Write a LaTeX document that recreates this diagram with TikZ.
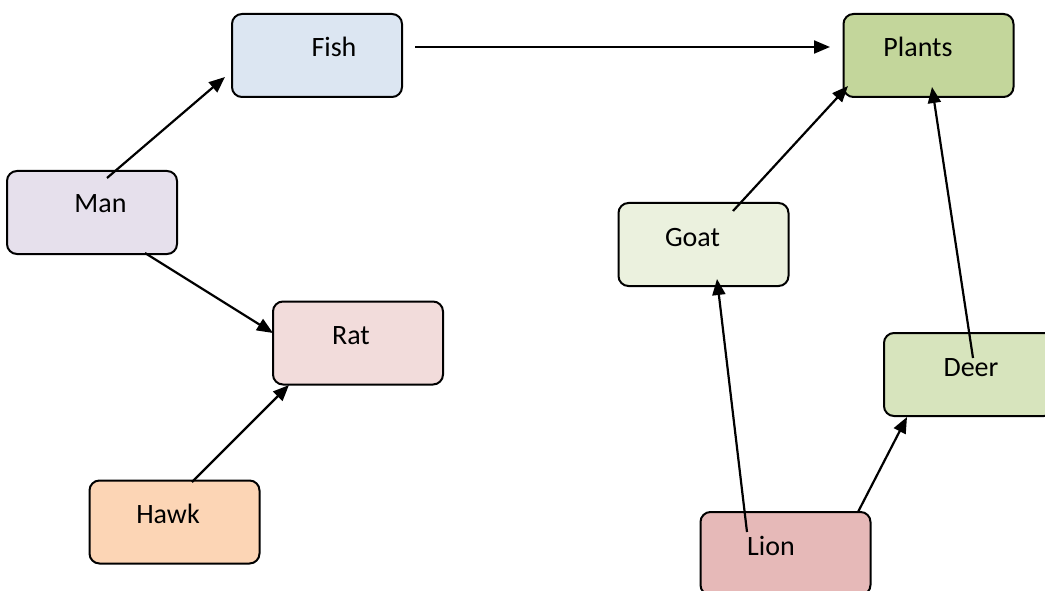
\documentclass[tikz,border=0pt]{standalone}
\usepackage{fontspec}
\setmainfont{Carlito}
\usepackage{tikz}
\usetikzlibrary{arrows.meta}
\definecolor{fishc}{HTML}{DCE6F2}
\definecolor{plantc}{HTML}{C3D69B}
\definecolor{manc}{HTML}{E6E0EC}
\definecolor{goatc}{HTML}{EBF1DE}
\definecolor{ratc}{HTML}{F2DCDB}
\definecolor{deerc}{HTML}{D7E4BD}
\definecolor{hawkc}{HTML}{FCD5B5}
\definecolor{lionc}{HTML}{E6B9B8}
\tikzset{
BOX/.style ={draw=black,rounded corners=10pt,line width=2pt,minimum width=170pt,minimum height=83pt,fill=#1},
BOX/.default = white,
NAME/.style ={anchor=base,inner sep=0pt,font=\fontsize{28}{34}\selectfont},
LINK/.style ={draw=black,line width=2.2pt,-{Triangle[length=16pt,width=13pt]}},
}
\begin{document}
\begin{tikzpicture} %food web
[x=1pt,y=-1pt]
	\useasboundingbox (0,0) rectangle (1045,591);
	\node[BOX=fishc] (fish) at (317,55.5) {};
	\node[BOX=plantc] (plants) at (928.5,55.5) {};
	\node[BOX=manc] (man) at (92,212.5) {};
	\node[BOX=goatc] (goat) at (703.5,244.5) {};
	\node[BOX=ratc] (rat) at (358,343) {};
	\node[BOX=deerc] (deer) at (969,374.5) {};
	\node[BOX=hawkc] (hawk) at (174.5,522) {};
	\node[BOX=lionc] (lion) at (785.5,553.5) {};
	\node[NAME] (fishname) at (334,57) {Fish};
	\node[NAME] (plantsname) at (918,57) {Plants};
	\node[NAME] (manname) at (100.5,213) {Man};
	\node[NAME] (goatname) at (692.5,246) {Goat};
	\node[NAME] (ratname) at (351,344) {Rat};
	\node[NAME] (deername) at (971,376) {Deer};
	\node[NAME] (hawkname) at (168,523) {Hawk};
	\node[NAME] (lionname) at (771,555) {Lion};
	\coordinate (f1) at (415,47);   \coordinate (p1) at (830,47);
	\coordinate (m1) at (107,178);  \coordinate (f2) at (225,77);
	\coordinate (m2) at (145,253);  \coordinate (r1) at (273,333);
	\coordinate (h1) at (192,482);  \coordinate (r2) at (289,385);
	\coordinate (g1) at (733,211);  \coordinate (p2) at (848,86);
	\coordinate (d1) at (973,358);  \coordinate (p3) at (932,87);
	\coordinate (l1) at (747,532);  \coordinate (g2) at (717,279);
	\coordinate (l2) at (858,512);  \coordinate (d2) at (907,417);
	\path[LINK] (f1) -- (p1);
	\path[LINK] (m1) -- (f2);
	\path[LINK] (m2) -- (r1);
	\path[LINK] (h1) -- (r2);
	\path[LINK] (g1) -- (p2);
	\path[LINK] (d1) -- (p3);
	\path[LINK] (l1) -- (g2);
	\path[LINK] (l2) -- (d2);
\end{tikzpicture}
\end{document}
